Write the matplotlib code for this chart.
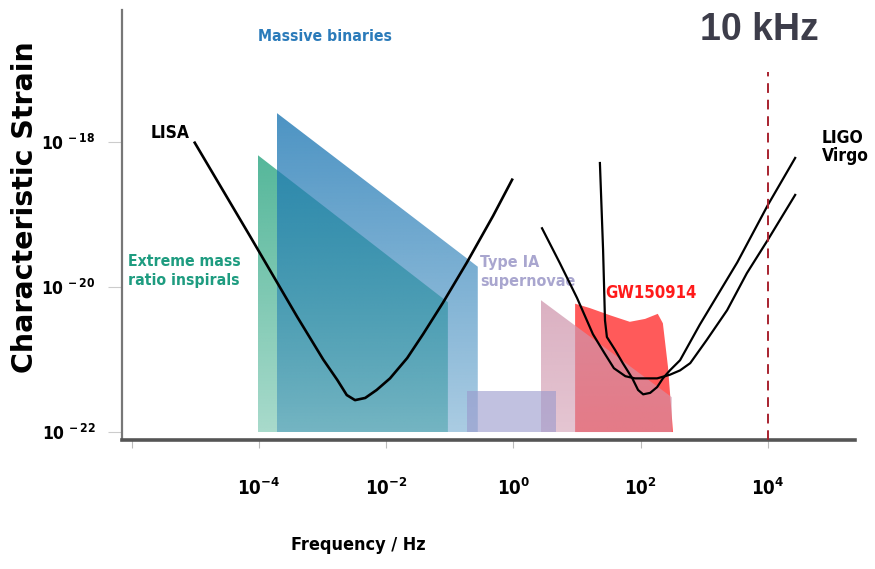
import numpy as np
import matplotlib
matplotlib.use("Agg")
import matplotlib.pyplot as plt
from matplotlib.patches import Polygon

# all values are log10 exponents (frequency in Hz, characteristic strain)

# LISA sensitivity curve
lisa_logf = [-5.01, -4.14, -3.40, -2.99, -2.77, -2.62, -2.49, -2.33, -2.15, -1.94,
             -1.67, -1.42, -1.11, -0.73, -0.32, -0.02]
lisa_logh = [-18.01, -19.30, -20.41, -21.00, -21.28, -21.49, -21.56, -21.53, -21.42, -21.26,
             -20.98, -20.65, -20.22, -19.66, -19.02, -18.52]

# ground based detectors (two curves)
ligo_logf = [1.36, 1.41, 1.44, 1.47, 1.60, 1.72, 1.87, 1.96, 2.04, 2.15, 2.26, 2.35, 2.46,
             2.62, 2.93, 3.52, 4.00, 4.43]
ligo_logh = [-18.29, -19.49, -20.46, -20.69, -20.87, -21.05, -21.26, -21.42, -21.48, -21.46,
             -21.38, -21.26, -21.15, -21.01, -20.52, -19.66, -18.87, -18.22]
virgo_logf = [0.45, 0.73, 1.00, 1.25, 1.43, 1.58, 1.76, 1.91, 2.26, 2.46, 2.62, 2.78, 3.04,
              3.36, 3.67, 4.00, 4.43]
virgo_logh = [-19.19, -19.67, -20.15, -20.65, -20.91, -21.12, -21.23, -21.26, -21.26, -21.21,
              -21.15, -21.05, -20.73, -20.32, -19.81, -19.35, -18.73]

# source regions
emri_logf = [-4.02, -4.02, -1.03, -1.03]
emri_logh = [-22.0, -18.18, -20.21, -22.0]
mbh_logf = [-3.72, -3.72, -0.56, -0.56]
mbh_logh = [-22.0, -17.60, -19.72, -22.0]
sn_box_logf = [-0.73, 0.67]
sn_box_logh = [-22.0, -21.43]
sn_logf = [0.43, 0.43, 2.49, 2.49]
sn_logh = [-22.0, -20.18, -21.52, -22.0]
gw_logf = [0.97, 0.97, 1.20, 1.52, 1.83, 2.07, 2.27, 2.35, 2.43, 2.51]
gw_logh = [-22.0, -20.23, -20.29, -20.39, -20.48, -20.44, -20.37, -20.50, -21.10, -22.0]

xtick_pos = [-6, -4, -2, 0, 2, 4]
xtick_lab = ["", "-4", "-2", "0", "2", "4"]
ytick_pos = [-22, -20, -18]
ytick_lab = ["-22", "-20", "-18"]
khz_logf = 4.0

plt.rcParams['mathtext.default'] = 'regular'
cond = dict(family='DejaVu Sans', fontstretch='condensed', fontweight='bold')

fig = plt.figure(figsize=(8.75, 5.69), dpi=100)
ax = fig.add_axes([0.1394, 0.2267, 0.8377, 0.7557])
ax.set_xlim(-6.154, 5.37)
ax.set_ylim(-22.11, -16.18)


def grad_fill(xs, ys, color, a_top, a_bot, z, y_top=-17.6, y_bot=-22.0):
    # polygon filled with a vertical alpha gradient
    poly = Polygon(np.column_stack([xs, ys]), closed=True, facecolor='none',
                   edgecolor='none')
    ax.add_patch(poly)
    y0, y1 = min(ys), max(ys)
    yy = np.linspace(y0, y1, 256)
    alpha = a_bot + (a_top - a_bot) * (yy - y_bot) / (y_top - y_bot)
    rgba = np.zeros((256, 1, 4))
    rgba[:, 0, :3] = matplotlib.colors.to_rgb(color)
    rgba[:, 0, 3] = np.clip(alpha, 0, 1)
    im = ax.imshow(rgba, extent=[min(xs), max(xs), y0, y1], origin='lower',
                   aspect='auto', zorder=z, interpolation='bilinear')
    im.set_clip_path(poly)


grad_fill(emri_logf, emri_logh, '#1a9e77', 0.8, 0.38, 1)
grad_fill(mbh_logf, mbh_logh, '#1f78b4', 0.8, 0.38, 2)
ax.fill(gw_logf, gw_logh, color='#ff5a5a', lw=0, zorder=3)
grad_fill(sn_logf, sn_logh, '#cf96ad', 0.75, 0.55, 4, y_top=-20.18)
ax.fill_between(sn_box_logf, sn_box_logh[0], sn_box_logh[1], color='#9998cc',
                alpha=0.6, lw=0, zorder=5)

# detector curves
ax.plot(lisa_logf, lisa_logh, color='black', lw=1.9, zorder=6, solid_joinstyle='round')
ax.plot(ligo_logf, ligo_logh, color='black', lw=1.6, zorder=6, solid_joinstyle='round')
ax.plot(virgo_logf, virgo_logh, color='black', lw=1.6, zorder=6, solid_joinstyle='round')

# 10 kHz marker
ax.plot([khz_logf, khz_logf], [-22.11, -17.03], color='#a8232f', lw=1.4,
        dashes=(5, 3.5), zorder=7, clip_on=False)

# labels
ax.text(-4.016, -16.55, "Massive binaries", color='#2b7bba', fontsize=11.3,
        ha='left', va='center', **cond)
ax.text(-5.71, -17.88, "LISA", color='black', fontsize=12.5,
        ha='left', va='center', **cond)
ax.text(-6.06, -19.78, "Extreme mass\nratio inspirals", color='#1e9c80', fontsize=11.3,
        ha='left', va='center', linespacing=1.3, **cond)
ax.text(-0.52, -19.79, "Type IA\nsupernovae", color='#a9a6cf', fontsize=11.5,
        ha='left', va='center', linespacing=1.3, **cond)
ax.text(1.44, -20.08, "GW150914", color='#ff1a1a', fontsize=12,
        ha='left', va='center', **cond)
ax.text(4.85, -18.07, "LIGO\nVirgo", color='black', fontsize=12.5,
        ha='left', va='center', linespacing=0.95, **cond)
ax.text(2.93, -16.45, "10 kHz", color='#3d3d4a', fontsize=27,
        fontweight='bold', family='Liberation Sans', ha='left', va='center')

# axes styling
for s in ['top', 'right']:
    ax.spines[s].set_visible(False)
ax.spines['left'].set_color('#777777')
ax.spines['left'].set_linewidth(1.6)
ax.spines['bottom'].set_color('#555555')
ax.spines['bottom'].set_linewidth(2.6)

ax.set_xticks(xtick_pos)
ax.set_xticklabels([("$10^{%s}$" % t) if t else "" for t in xtick_lab],
                   fontsize=13.5, **cond)
ax.tick_params(axis='x', length=6, color='#bbbbbb', pad=21)
ax.set_yticks(ytick_pos)
ax.set_yticklabels(["$10^{\\,%s}$" % t for t in ytick_lab], fontsize=12.5, **cond)
ax.tick_params(axis='y', length=10, color='#cccccc', pad=9)

fig.text(358 / 875, 1 - 545 / 569, "Frequency / Hz", fontsize=13,
         ha='center', va='center', **cond)
fig.text(25 / 875, 1 - 207 / 569, "Characteristic Strain", family='DejaVu Sans',
         fontsize=20.5, fontweight='bold', rotation=90, ha='center', va='center')

fig.savefig("out.png", dpi=100)
